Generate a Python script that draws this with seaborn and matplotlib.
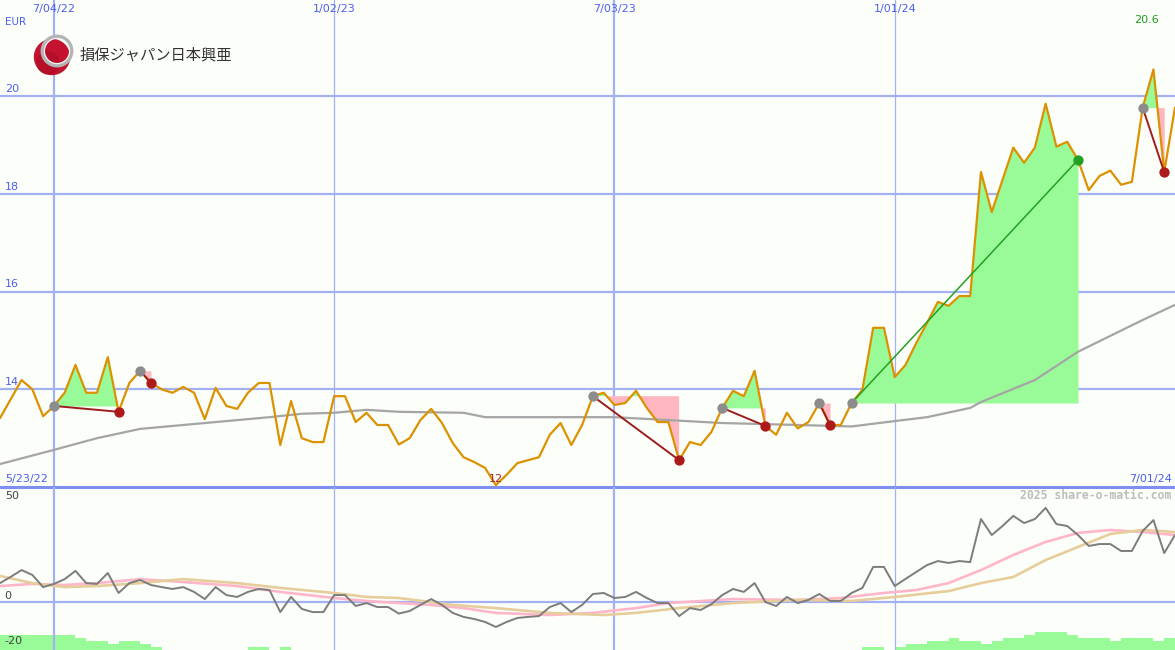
import numpy as np
import seaborn as sns
import matplotlib
matplotlib.use("Agg")
import matplotlib.pyplot as plt
from matplotlib.patches import Circle

# weekly closing prices in EUR (week 0 = late May 2022, week 109 = 7/01/24)
price = [13.41, 13.8, 14.19, 14.0, 13.45, 13.66, 13.93, 14.5, 13.93, 13.93,
         14.66, 13.54, 14.13, 14.38, 14.13, 14.0, 13.93, 14.05, 13.93, 13.39,
         14.03, 13.66, 13.6, 13.93, 14.13, 14.13, 12.86, 13.76, 13.0, 12.92,
         12.92, 13.86, 13.86, 13.33, 13.52, 13.27, 13.27, 12.87, 13.0, 13.37,
         13.6, 13.31, 12.9, 12.61, 12.51, 12.39, 12.04, 12.25, 12.49, 12.55,
         12.61, 13.07, 13.31, 12.86, 13.27, 13.86, 13.93, 13.68, 13.72, 13.97,
         13.62, 13.33, 13.33, 12.55, 12.92, 12.86, 13.13, 13.62, 13.97, 13.86,
         14.38, 13.25, 13.07, 13.52, 13.2, 13.33, 13.72, 13.27, 13.27, 13.72,
         13.99, 15.26, 15.26, 14.25, 14.5, 14.95, 15.36, 15.79, 15.71, 15.91,
         15.91, 18.45, 17.63, 18.29, 18.95, 18.64, 18.95, 19.85, 18.97, 19.07,
         18.7, 18.08, 18.37, 18.48, 18.19, 18.25, 19.77, 20.55, 18.45, 19.77]
weeks = np.arange(len(price))

# long moving average (grey line, upper panel)
ma_weeks = [0, 5, 7, 9, 13, 16, 20, 25, 28, 31, 34, 37, 43, 45, 50, 57, 62,
            67, 74, 79, 83, 86, 90, 91, 96, 100, 106, 109]
ma_vals = [12.47, 12.76, 12.88, 13.0, 13.19, 13.25, 13.33, 13.43, 13.5, 13.52,
           13.58, 13.54, 13.52, 13.43, 13.43, 13.43, 13.37, 13.31, 13.27, 13.24,
           13.35, 13.43, 13.62, 13.74, 14.19, 14.77, 15.42, 15.73]

# lower panel: oscillator (grey), two smoothed lines (pink, tan)
osc = [9.0, 12, 15.2, 12.9, 7.1, 8.6, 10.9, 14.8, 9.0, 8.6,
       13.8, 4.3, 9, 10.5, 8.1, 7.1, 6.2, 7.1, 4.8, 1.4,
       7.1, 3.3, 2.4, 4.8, 6.2, 5.7, -4.8, 2.4, -3.3, -4.8,
       -4.8, 3.3, 3.3, -1.9, -0.5, -2.4, -2.4, -5.5, -4.3, -1.4,
       1.4, -1.4, -5.2, -7.1, -8.1, -9.5, -11.9, -9.5, -7.6, -7.1,
       -6.7, -2.4, -0.5, -4.8, -1.4, 3.8, 4.3, 1.9, 2.4, 4.8,
       1.9, -0.5, -0.5, -6.7, -2.9, -3.8, -1.0, 3.3, 6.2, 4.8,
       9.0, 0, -1.9, 2.4, -0.5, 1.0, 3.8, 0.5, 0.5, 4.3,
       6.7, 16.7, 16.7, 7.6, 11, 14.3, 17.6, 19.5, 18.6, 19.5,
       19, 39.5, 31.9, 36.2, 41, 37.6, 39.5, 44.8, 37.1, 36.2,
       31.9, 26.7, 27.6, 27.6, 24.3, 24.3, 33.8, 39, 23.3, 31.9]

pink_weeks = [0, 3, 6, 9, 13, 17, 22, 26, 31, 34, 37, 40, 43, 46, 51, 55, 59,
              62, 68, 74, 78, 82, 85, 88, 91, 94, 97, 100, 103, 106, 109]
pink_vals = [7.6, 8.6, 8.1, 9, 10.9, 9.5, 7.6, 4.8, 1.9, 0.5, -0.5, -1.4, -2.9,
             -5.2, -6.2, -5.2, -2.9, -0.5, 1.4, 1.0, 1.9, 4.3, 5.7, 9, 15.2,
             22.4, 28.6, 32.9, 34.3, 33.3, 31.9]

tan_weeks = [0, 3, 6, 9, 13, 17, 22, 26, 31, 34, 37, 42, 46, 51, 56, 59, 63,
             68, 74, 79, 83, 88, 91, 94, 97, 100, 103, 106, 109]
tan_vals = [12.4, 9, 7.1, 7.6, 9, 10.9, 9, 6.7, 4.3, 2.4, 1.9, -1.4, -2.9,
            -5.2, -6.2, -5.2, -2.9, -0.5, 1.0, 0.5, 2.4, 5.2, 9, 11.9, 20,
            26.2, 32.4, 34.3, 33.3]

# strength bars along the bottom edge
bar_levels = [5, 5, 5, 5, 5, 5, 5, 4, 3, 3, 2, 3, 3, 2, 1, 0, 0, 0, 0, 0,
              0, 0, 0, 1, 1, 0, 1, 0, 0, 0, 0, 0, 0, 0, 0, 0, 0, 0, 0, 0,
              0, 0, 0, 0, 0, 0, 0, 0, 0, 0, 0, 0, 0, 0, 0, 0, 0, 0, 0, 0,
              0, 0, 0, 0, 0, 0, 0, 0, 0, 0, 0, 0, 0, 0, 0, 0, 0, 0, 0, 0,
              1, 1, 0, 1, 2, 2, 3, 3, 4, 3, 3, 2, 3, 4, 4, 5, 6, 6, 6, 5,
              4, 4, 4, 3, 4, 4, 4, 3, 4, 4]

# trade signals: start week, end week, winning?
sig_start = [5, 13, 55, 67, 76, 79, 106]
sig_end = [11, 14, 63, 71, 77, 100, 108]
sig_win = [False, False, False, False, False, True, False]

date_ticks = [5, 31, 57, 83]
date_labels = ["7/04/22", "1/02/23", "7/03/23", "1/01/24"]
price_ticks = [14, 16, 18, 20]

sns.set_theme(style="white")
plt.rcParams["font.family"] = ["DejaVu Sans"]

bg = "#fcfefa"
grid_c = "#a3b1f2"
lab_c = "#4d5ff0"
fig = plt.figure(figsize=(11.75, 6.5), dpi=100, facecolor=bg)
ax = fig.add_axes([0, 163 / 650, 1, 487 / 650], facecolor=bg)
axb = fig.add_axes([0, 0, 1, 163 / 650], facecolor=bg)

# ---- upper panel
ax.set_xlim(0, 109)
ax.set_ylim(12.0, 12 + 487 / 48.83)
for y in price_ticks:
    ax.axhline(y, color=grid_c, lw=1.6, zorder=0)
    ax.text(0.004, y + 0.05, str(y), transform=ax.get_yaxis_transform(),
            fontsize=8, color=lab_c, va="bottom", ha="left")
for i, (w, lab) in enumerate(zip(date_ticks, date_labels)):
    lw = 1.6 if i % 2 == 0 else 0.9
    ax.axvline(w, color=grid_c, lw=lw, zorder=0)
    axb.axvline(w, color=grid_c, lw=lw, zorder=0)
    ax.text(w, 0.981, lab, transform=ax.get_xaxis_transform(), fontsize=8,
            color=lab_c, ha="center", va="center")
ax.axhline(12.0, color="#7f8ff0", lw=2.2, clip_on=False, zorder=1)

pr = np.array(price)
for s, e, win in zip(sig_start, sig_end, sig_win):
    xs = weeks[s:e + 1]
    ys = pr[s:e + 1]
    lvl = pr[s]
    ax.fill_between(xs, ys, lvl, where=ys >= lvl, interpolate=True,
                    color="#98fb98", lw=0, zorder=1)
    ax.fill_between(xs, ys, lvl, where=ys < lvl, interpolate=True,
                    color="#ffb6c1", lw=0, zorder=1)

sns.lineplot(x=ma_weeks, y=ma_vals, ax=ax, color="#a5a5a5", lw=1.6, zorder=2)
sns.lineplot(x=weeks, y=price, ax=ax, color="#dc9200", lw=1.6, zorder=3)

for s, e, win in zip(sig_start, sig_end, sig_win):
    lc = "#23a023" if win else "#a01c1c"
    ax.plot([s, e], [pr[s], pr[e]], color=lc, lw=1.1 if win else 1.4, zorder=4)
    ax.scatter([s], [pr[s]], s=55, color="#8c8c8c", zorder=5, lw=0)
    ax.scatter([e], [pr[e]], s=55, color="#23a023" if win else "#ac1a1a",
               zorder=5, lw=0)

imin = int(np.argmin(pr))
imax = int(np.argmax(pr))
ax.text(imin, pr[imin] + 0.02, f"{pr[imin]:.0f}", color="#aa2222", fontsize=8,
        ha="center", va="bottom")
ax.text(imax - 0.6, 21.56, f"{pr[imax]:.1f}", color="#1f9a1f", fontsize=8,
        ha="center", va="center")
ax.text(0.004, 0.955, "EUR", transform=ax.transAxes, fontsize=7.5, color=lab_c,
        va="center")
ax.text(0.004, 0.0164, "5/23/22", transform=ax.transAxes, fontsize=8,
        color=lab_c, va="center")
ax.text(0.997, 0.0164, "7/01/24", transform=ax.transAxes, fontsize=8,
        color=lab_c, va="center", ha="right")

# ---- lower panel
axb.set_xlim(0, 109)
axb.set_ylim(-48 / 2.1, 115 / 2.1)
axb.axhline(0, color=grid_c, lw=1.6, zorder=0)
axb2 = axb.twinx()
axb2.set_ylim(0, 163 / 3)
axb2.bar(weeks, bar_levels, width=1, align="edge", color="#98fb98", lw=0)
sns.lineplot(x=pink_weeks, y=pink_vals, ax=axb, color="#ffb6c8", lw=1.9, zorder=2)
sns.lineplot(x=tan_weeks, y=tan_vals, ax=axb, color="#e6cd9c", lw=1.9, zorder=2)
sns.lineplot(x=weeks, y=osc, ax=axb, color="#7c7c7c", lw=1.4, zorder=3)
axb.set_zorder(axb2.get_zorder() + 1)
axb.patch.set_visible(False)
axb2.patch.set_facecolor(bg)

axb.text(0.004, 50.5, "50", transform=axb.get_yaxis_transform(), fontsize=8,
         color="#444444", va="center")
axb.text(0.004, 0.6, "0", transform=axb.get_yaxis_transform(), fontsize=8,
         color="#444444", va="bottom")
axb.text(0.004, -18.8, "-20", transform=axb.get_yaxis_transform(), fontsize=8,
         color="#444444", va="center")
axb.text(0.997, 50.5, "2025 share-o-matic.com", transform=axb.get_yaxis_transform(),
         fontsize=8.3, color="#bdbdbd", fontweight="bold", ha="right", va="center",
         family=["DejaVu Sans Mono"])

for a in fig.axes:
    a.set_xticks([])
    a.set_yticks([])
    a.set_xlabel("")
    a.set_ylabel("")
    for sp in a.spines.values():
        sp.set_visible(False)

# ---- logo
lg = fig.add_axes([30 / 1175, 1 - 80 / 650, 50 / 1175, 50 / 650])
lg.set_xlim(30, 80)
lg.set_ylim(80, 30)
lg.axis("off")
lg.add_patch(Circle((52, 57), 17.5, color="#c4122f", zorder=1))
lg.add_patch(Circle((48, 63), 11, color="#a80d24", zorder=1, alpha=0.5))
lg.add_patch(Circle((57, 51), 14.5, fill=False, ec="#b4b4b4", lw=2.8, zorder=2))
lg.add_patch(Circle((57, 51), 12.6, fill=False, ec="#f4f4f4", lw=0.9, zorder=2))
fig.text(80 / 1175, 1 - 55 / 650, "損保ジャパン日本興亜", fontsize=11,
         family=["Noto Sans CJK JP"], color="#333333", va="center", ha="left")

fig.savefig("out.png", dpi=100, facecolor=bg)
